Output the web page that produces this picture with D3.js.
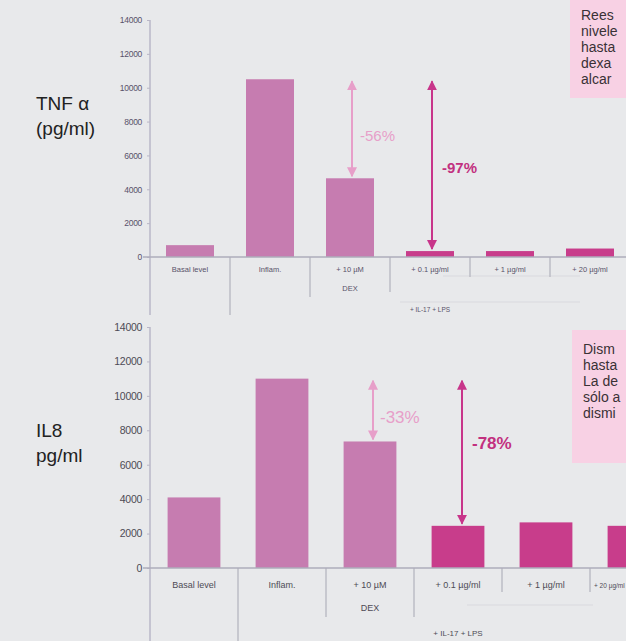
<!DOCTYPE html>
<html><head><meta charset="utf-8">
<script src="https://cdn.jsdelivr.net/npm/d3@7"></script>
<style>html,body{margin:0;padding:0;background:#e8e9eb;overflow:hidden}svg{display:block}</style>
</head><body><svg id="c" width="626" height="641"></svg>
<script>
const categories = ["Basal level","Inflam.","+ 10 µM","+ 0.1 µg/ml","+ 1 µg/ml","+ 20 µg/ml"];
const subLabels = ["","","DEX","","",""];
const groupLabel = "+ IL-17 + LPS";
const tnfValues = [700, 10500, 4650, 350, 350, 500];
const il8Values = [4100, 11000, 7350, 2450, 2650, 2450];
const barKinds = ["ref","ref","ref","treat","treat","treat"];
const yTicks = [0,2000,4000,6000,8000,10000,12000,14000];
const tnfChanges = [{from:1,to:2,label:"-56%",kind:"ref"},{from:1,to:3,label:"-97%",kind:"treat"}];
const il8Changes = [{from:1,to:2,label:"-33%",kind:"ref"},{from:1,to:3,label:"-78%",kind:"treat"}];
const tnfTitle = ["TNF α","(pg/ml)"];
const il8Title = ["IL8","pg/ml"];
const tnfNote = ["Rees","nivele","hasta","dexa","alcar"];
const il8Note = ["Dism","hasta","La de","sólo a","dismi"];

const svg = d3.select("#c");
const font = "'Liberation Sans', Arial, sans-serif";
const barColor = {ref:"#c67cb0", treat:"#c83d8b"};
const arrowColor = {ref:"#e79fc9", treat:"#c8358a"};
const labelColor = {ref:"#e79fc9", treat:"#c2307f"};

const defs = svg.append("defs");
["ref","treat"].forEach(k=>{
  defs.append("marker").attr("id","ah-"+k).attr("viewBox","0 0 10 10")
    .attr("refX",9).attr("refY",5).attr("markerWidth",5).attr("markerHeight",5)
    .attr("orient","auto-start-reverse").attr("markerUnits","strokeWidth")
    .append("path").attr("d","M0,0 L10,5 L0,10 Z").attr("fill",arrowColor[k]);
});

function panel(cfg){
  const g = svg.append("g");
  const x = d3.scaleBand().domain(categories).range([150, 150 + 6*cfg.step])
    .paddingInner(0.4).paddingOuter(0.2);
  const y = d3.scaleLinear().domain([0,14000]).range([cfg.y0, cfg.y14]);
  const step = x.step(), bw = x.bandwidth();

  cfg.hlines.forEach(h=>{
    g.append("line").attr("x1",h[0]).attr("x2",h[1]).attr("y1",cfg.y0+h[2]).attr("y2",cfg.y0+h[2])
      .attr("stroke","#d9d9de").attr("stroke-width",1);
  });

  const ax = g.append("g").attr("transform","translate(150,0)")
    .call(d3.axisLeft(y).tickValues(yTicks).tickSize(3).tickPadding(5).tickFormat(d3.format("d")));
  ax.select(".domain").remove();
  ax.selectAll(".tick line").attr("stroke","#b9b6c6");
  ax.selectAll(".tick text").attr("font-family",font).attr("font-size",cfg.tickFs)
    .attr("fill",cfg.tickColor).attr("letter-spacing","-0.3");
  g.append("line").attr("x1",150).attr("x2",150).attr("y1",y(14000)).attr("y2",cfg.y0+cfg.seps[0])
    .attr("stroke","#bab7c9").attr("stroke-width",1.5);
  const sepX = [];
  categories.forEach((c,i)=>{
    if(i===0) return;
    const sx = x(c) - (step-bw)/2;
    sepX[i] = sx;
    g.append("line").attr("x1",sx).attr("x2",sx).attr("y1",cfg.y0).attr("y2",cfg.y0+cfg.seps[i])
      .attr("stroke","#bdbcc6").attr("stroke-width",1.5);
  });
  g.selectAll("rect.bar").data(cfg.values).join("rect").attr("class","bar")
    .attr("x",(d,i)=>x(categories[i])).attr("width",bw)
    .attr("y",d=>y(d)).attr("height",d=>y(0)-y(d))
    .attr("fill",(d,i)=>barColor[barKinds[i]]);
  g.append("line").attr("x1",143).attr("x2",626).attr("y1",y(0)).attr("y2",y(0))
    .attr("stroke","#aeacbb").attr("stroke-width",1.5);
  categories.forEach((c,i)=>{
    const cxl = x(c)+bw/2;
    const last = i===categories.length-1 && cxl+30>626;
    const t = g.append("text").attr("x",last?sepX[i]+4:cxl).attr("y",cfg.y0+cfg.catDy)
      .attr("text-anchor",last?"start":"middle")
      .attr("font-family",font).attr("font-size",last?6.5:cfg.catFs).attr("fill",cfg.tickColor).text(c);
    if(subLabels[i]) g.append("text").attr("x",cxl).attr("y",cfg.y0+cfg.catDy+cfg.subDy)
      .attr("text-anchor","middle").attr("font-family",font).attr("font-size",cfg.catFs)
      .attr("fill",cfg.tickColor).text(subLabels[i]);
  });
  g.append("text").attr("x",x(categories[3])+bw/2).attr("y",cfg.y0+cfg.groupDy).attr("text-anchor","middle")
    .attr("font-family",font).attr("font-size",cfg.catFs-1).attr("fill",cfg.tickColor).text(groupLabel);

  cfg.changes.forEach((ch,j)=>{
    const cx = x(categories[ch.to]) + bw/2 + cfg.arrowDx[j];
    g.append("line").attr("x1",cx).attr("x2",cx)
      .attr("y1",y(cfg.values[ch.from])+2).attr("y2",y(cfg.values[ch.to])-2)
      .attr("stroke",arrowColor[ch.kind]).attr("stroke-width",2)
      .attr("marker-start","url(#ah-"+ch.kind+")").attr("marker-end","url(#ah-"+ch.kind+")");
    g.append("text").attr("x",cx+cfg.labelDx[j]).attr("y",cfg.labelY[j])
      .attr("font-family",font).attr("font-size",cfg.pctFs)
      .attr("font-weight",ch.kind==="treat"?"bold":"normal")
      .attr("fill",labelColor[ch.kind]).text(ch.label);
  });

  cfg.title.forEach((t,k)=>{
    g.append("text").attr("x",36).attr("y",cfg.titleY+k*cfg.titleLh).attr("font-family",font)
      .attr("font-size",19).attr("fill","#222").text(t);
  });

  g.append("rect").attr("x",cfg.note.x).attr("y",cfg.note.y).attr("width",626-cfg.note.x+5)
    .attr("height",cfg.note.h).attr("fill","#f8d1e4");
  cfg.noteText.forEach((t,k)=>{
    g.append("text").attr("x",cfg.note.x+11).attr("y",cfg.note.y+cfg.note.ty+k*16)
      .attr("font-family",font).attr("font-size",14).attr("fill","#3a3236").text(t);
  });
}

panel({values:tnfValues, changes:tnfChanges, step:80, y0:257, y14:20,
  tickFs:8.5, catFs:7.5, tickColor:"#58526a", catDy:15, subDy:19, groupDy:55,
  seps:[58,58,40,35,20,20], hlines:[[443,580,19],[400,580,45]],
  arrowDx:[2,2], labelDx:[8,10], labelY:[141,173], pctFs:15,
  title:tnfTitle, titleY:110, titleLh:25,
  note:{x:570,y:0,h:98,ty:20}, noteText:tnfNote});

panel({values:il8Values, changes:il8Changes, step:88, y0:568, y14:327,
  tickFs:10.5, catFs:9, tickColor:"#4e4b55", catDy:20, subDy:23, groupDy:68,
  seps:[80,80,49,49,24,24], hlines:[[467,593,37]],
  arrowDx:[3,4], labelDx:[7,10], labelY:[423,449], pctFs:17,
  title:il8Title, titleY:437, titleLh:25,
  note:{x:572,y:330,h:133,ty:24}, noteText:il8Note});
</script></body></html>
